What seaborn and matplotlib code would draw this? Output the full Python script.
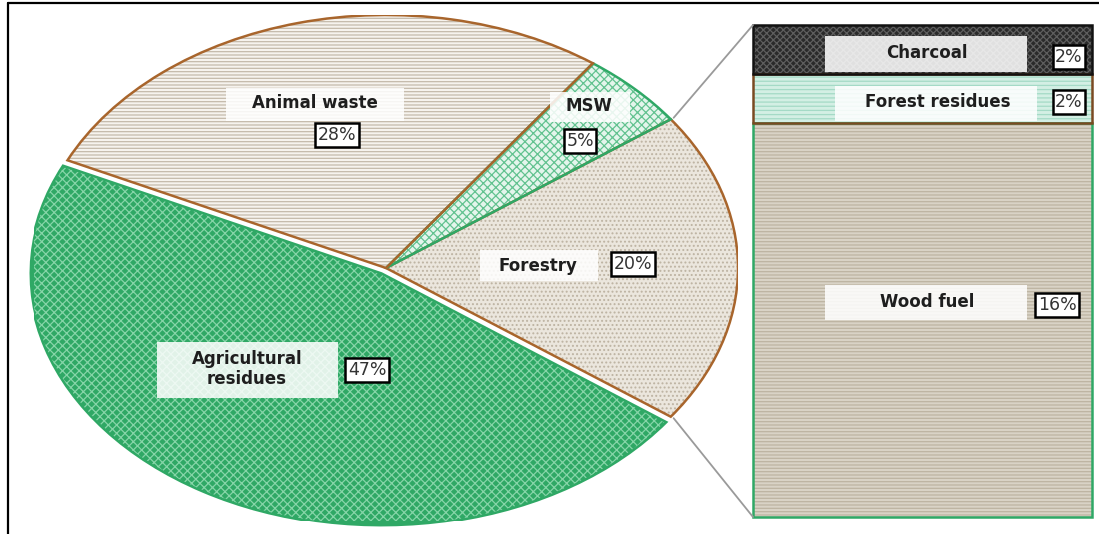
import numpy as np
import pandas as pd
import seaborn as sns
import matplotlib.pyplot as plt
from matplotlib.patches import Wedge, Rectangle, ConnectionPatch
from matplotlib.lines import Line2D

# data
main_labels = ['Forestry', 'MSW', 'Animal waste', 'Agricultural\nresidues']
main_shares = [20, 5, 28, 47]
sub_labels = ['Wood fuel', 'Forest residues', 'Charcoal']
sub_shares = [16, 2, 2]

# styles (face, hatch colour, hatch, edge)
main_styles = [
    ('#ebe6dd', '#bdb3a2', '....', '#a8652c'),
    ('#e4f5ec', '#62c290', 'xxxx', '#2fa866'),
    ('#f6f3ee', '#c4baab', '-----', '#a8652c'),
    ('#2fa865', '#86d5a8', 'xxxx', '#2fa865'),
]
sub_styles = [
    ('#d9d3c6', '#bdb4a2', '-----', '#2fa866'),
    ('#d3efe4', '#a4dac6', '----', '#7a4a22'),
    ('#2a2a2a', '#5e5e5e', 'xxxxx', '#111111'),
]

W, H = 1099, 534


def fx(x):
    return x / W


def fy(y):
    return 1 - y / H


# label layout in pixels: text centre, name box (x0, y0, x1, y1), pct centre
main_layout = {
    'Forestry': ((538, 266), (480, 250, 598, 281), (633, 264)),
    'MSW': ((589, 106), (550, 92, 630, 122), (580, 141)),
    'Animal waste': ((315, 103), (226, 88, 404, 121), (337, 135)),
    'Agricultural\nresidues': ((247, 369), (157, 342, 338, 398), (367, 370)),
}
sub_layout = {
    'Wood fuel': ((927, 302), (825, 285, 1027, 320), (1057, 305)),
    'Forest residues': ((938, 102), (835, 86, 1037, 121), (1069, 102)),
    'Charcoal': ((927, 53), (825, 36, 1027, 72), (1069, 57)),
}


def set_style():
    sns.set_style('white')
    plt.rcParams['font.family'] = ['DejaVu Sans']
    plt.rcParams['hatch.linewidth'] = 0.9


def add_label(fig, name, pct, layout):
    (tx, ty), (x0, y0, x1, y1), (px, py) = layout
    fig.add_artist(Rectangle((fx(x0), fy(y1)), fx(x1 - x0), (y1 - y0) / H,
                             transform=fig.transFigure, facecolor='white',
                             alpha=0.86, edgecolor='none', zorder=5))
    fig.text(fx(tx), fy(ty), name, ha='center', va='center', fontsize=12,
             fontweight='bold', color='#1e1e1e', zorder=6, linespacing=1.2)
    fig.text(fx(px), fy(py), f'{pct}%', ha='center', va='center', fontsize=12.5,
             color='#333333', zorder=6,
             bbox=dict(boxstyle='square,pad=0.15', facecolor='white',
                       edgecolor='black', linewidth=1.8))


def main():
    set_style()
    fig = plt.figure(figsize=(W / 100, H / 100), dpi=100)

    # pie (stretched into an ellipse)
    ax = fig.add_axes([fx(34), fy(521), fx(704), 506 / H])
    wedges, _ = ax.pie(main_shares, startangle=-36, counterclock=True,
                       explode=[0, 0, 0, 0.025], radius=1,
                       wedgeprops=dict(linewidth=0))
    for w, (face, hcol, hatch, edge) in zip(wedges, main_styles):
        w.set_facecolor(face)
        hw = Wedge(w.center, w.r, w.theta1, w.theta2, facecolor='none',
                   edgecolor=hcol, hatch=hatch, linewidth=0, zorder=2)
        ow = Wedge(w.center, w.r, w.theta1, w.theta2, fill=False,
                   edgecolor=edge, linewidth=1.8, zorder=3)
        ax.add_patch(hw)
        ax.add_patch(ow)
    ax.set_aspect('auto')
    ax.set_xlim(-1, 1)
    ax.set_ylim(-1, 1)
    ax.axis('off')

    # bar of pie: stacked forestry breakdown
    bx = fig.add_axes([fx(753), fy(517), fx(339), 492 / H])
    tops = np.cumsum(sub_shares)
    df = pd.DataFrame({'group': 'Forestry', 'top': tops, 'part': sub_labels})
    for i in range(len(df) - 1, -1, -1):
        sns.barplot(data=df.iloc[[i]], x='group', y='top', width=1,
                    color=sub_styles[i][0], ax=bx, saturation=1)
    bx.set_xlim(-0.5, 0.5)
    bx.set_ylim(0, tops[-1])
    bx.axis('off')
    bottoms = np.concatenate([[0], tops[:-1]])
    for (face, hcol, hatch, edge), b, h in zip(sub_styles, bottoms, sub_shares):
        bx.add_patch(Rectangle((-0.5, b), 1, h, facecolor=face, edgecolor=hcol,
                               hatch=hatch, linewidth=0, zorder=3))
        bx.add_patch(Rectangle((-0.5, b), 1, h, fill=False, edgecolor=edge,
                               linewidth=1.8, zorder=4, clip_on=False))

    # connector lines from the forestry wedge to the bar
    fw = wedges[0]
    cx, cy = fw.center
    for theta, ytop in [(fw.theta2, tops[-1]), (fw.theta1, 0)]:
        xa = cx + 1.01 * np.cos(np.radians(theta))
        ya = cy + 1.01 * np.sin(np.radians(theta))
        con = ConnectionPatch(xyA=(xa, ya), coordsA=ax.transData,
                              xyB=(-0.5, ytop), coordsB=bx.transData,
                              color='#9a9a9a', linewidth=1.3)
        fig.add_artist(con)

    for name, pct in zip(main_labels, main_shares):
        add_label(fig, name, pct, main_layout[name])
    for name, pct in zip(sub_labels, sub_shares):
        add_label(fig, name, pct, sub_layout[name])

    # outer frame (left and top edges)
    fig.add_artist(Line2D([fx(8), fx(8)], [0, fy(3)], transform=fig.transFigure,
                          color='black', linewidth=1.6))
    fig.add_artist(Line2D([fx(8), 1], [fy(3), fy(3)], transform=fig.transFigure,
                          color='black', linewidth=1.6))

    fig.savefig('out.png', dpi=100)


if __name__ == '__main__':
    main()
